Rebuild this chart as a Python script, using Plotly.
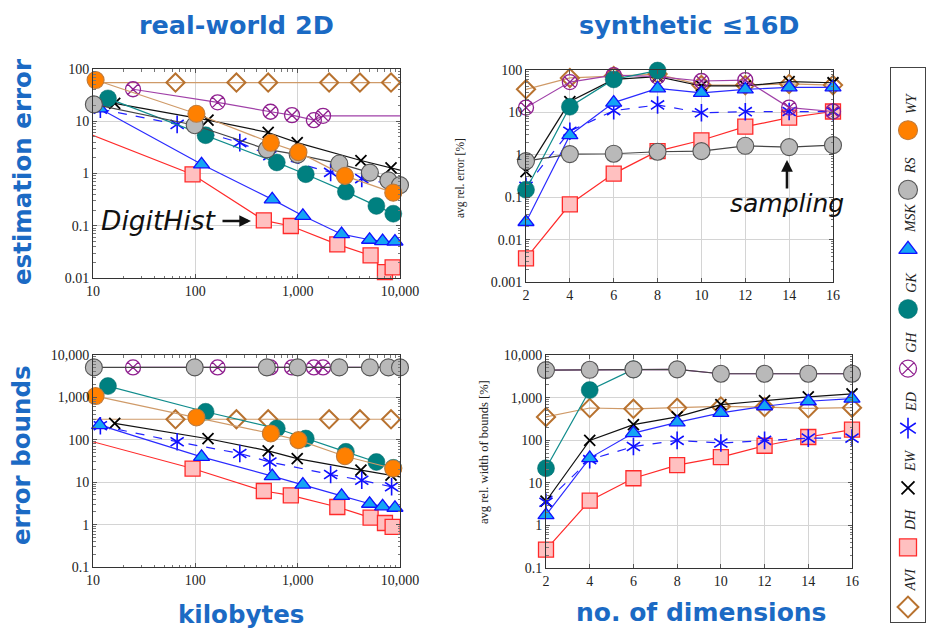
import plotly.graph_objects as go
import numpy as np

# ---------------- real-world 2D (x = kilobytes) ----------------
AVI_rw_x = [8, 64, 252, 515, 2030, 4060, 8170]
AVI_rw_err = [55, 55, 55, 55, 55, 55, 55]
AVI_rw_bnd = [305, 305, 305, 305, 305, 305, 305]

DH_rw_x = [8, 94, 467, 857, 2440, 5160, 7130, 8470]
DH_rw_err = [6.4, 0.96, 0.127, 0.099, 0.044, 0.027, 0.013, 0.016]
DH_rw_bnd = [104, 21, 6.2, 4.9, 2.6, 1.46, 1.09, 0.88]

EW_rw_x = [16.3, 133, 515, 990, 4150, 8170, 14000]
EW_rw_err = [22, 10.5, 6.1, 3.9, 1.77, 1.28, 0.99]
EW_rw_bnd = [243, 106, 55, 36, 19.2, 14.6, 11.7]

ED_rw_x = [11.8, 66.4, 272, 535, 2100, 4230, 8280]
ED_rw_err = [17, 8.7, 3.9, 2.2, 1.05, 0.80, 0.62]
ED_rw_bnd = [215, 90, 47.5, 30, 15.2, 11.1, 7.8]

GH_rw_x = [24.6, 165, 543, 880, 1440, 1770, 20000]
GH_rw_err = [41, 23, 15.2, 13.1, 10.5, 12.7, 12.7]
GH_rw_bnd = [5100, 5100, 5100, 5100, 5100, 5100, 5100]

GK_rw_x = [14, 126, 625, 1200, 2960, 5880, 8600]
GK_rw_err = [27.4, 5.4, 1.63, 0.97, 0.45, 0.24, 0.17]
GK_rw_bnd = [1850, 458, 185, 107, 52, 30, 21.8]

MSK_rw_x = [11.6, 115, 564, 1124, 2686, 5044, 6760, 8930]
MSK_rw_err = [17.6, 1.5, 0.32, 0.155, 0.069, 0.054, 0.051, 0.050]
MSK_rw_bnd = [222, 39.6, 13.9, 8.8, 4.75, 3.1, 2.7, 2.5]

RS_rw_x = [10.2, 98.6, 500, 1000, 2550, 5080, 7700, 10000]
RS_rw_err = [21, 8.4, 2.9, 2.3, 1.55, 1.04, 0.74, 0.60]
RS_rw_bnd = [5100, 5100, 5100, 5100, 5100, 5100, 5100, 5100]

WY_rw_x = [10.6, 102.5, 547, 1018, 2896, 8590]
WY_rw_err = [61.5, 13.9, 3.87, 2.56, 0.90, 0.43]
WY_rw_bnd = [1075, 337, 141, 98, 41, 21]

# ---------------- synthetic (x = no. of dimensions) ----------------
dims = [2, 4, 6, 8, 10, 12, 14, 16]
GK_dims_err = [2, 4, 6, 8]
GK_dims_bnd = [2, 4, 6]

AVI_syn_err = [35, 65, 72, 80, 44, 44, 47, 44]
DH_syn_err = [0.0036, 0.068, 0.36, 1.22, 2.2, 4.6, 7.5, 10.5]
EW_syn_err = [0.40, 18, 60, 70, 42, 42, 53, 50]
ED_syn_err = [0.18, 3.6, 11, 15, 9.8, 10.4, 10.5, 10.4]
GH_syn_err = [13, 52, 76, 70, 55, 58, 13, 10.5]
GK_syn_err = [0.15, 13.6, 60, 97]
MSK_syn_err = [0.026, 2.9, 17, 37, 29, 35, 39, 39]
RS_syn_err = [0.71, 1.04, 1.06, 1.18, 1.22, 1.63, 1.52, 1.69]

AVI_syn_bnd = [352, 570, 545, 575, 620, 600, 560, 580]
DH_syn_bnd = [0.27, 3.8, 12.8, 26, 40, 74, 119, 177]
EW_syn_bnd = [3.7, 99, 232, 352, 687, 853, 1040, 1225]
ED_syn_bnd = [3.5, 35, 71, 99, 86, 99, 112, 112]
GH_syn_bnd = [4420, 4500, 4600, 4600, 3630, 3630, 3630, 3630]
GK_syn_bnd = [22, 1500, 4600]
MSK_syn_bnd = [1.75, 38, 147, 263, 436, 627, 822, 950]
RS_syn_bnd = [4420, 4500, 4600, 4600, 3630, 3630, 3630, 3630]

# tick labels
rw_x_ticks = [10, 100, 1000, 10000]
rw_x_text = ["10", "100", "1,000", "10,000"]
err_rw_ticks = [0.01, 0.1, 1, 10, 100]
err_rw_text = ["0.01", "0.1", "1", "10", "100"]
err_syn_ticks = [0.001, 0.01, 0.1, 1, 10, 100]
err_syn_text = ["0.001", "0.01", "0.1", "1", "10", "100"]
bnd_ticks = [0.1, 1, 10, 100, 1000, 10000]
bnd_text = ["0.1", "1", "10", "100", "1,000", "10,000"]

names = ["AVI", "DH", "EW", "ED", "GH", "GK", "MSK", "RS", "WY"]

styles = {
    "AVI": dict(line=dict(color="#cf9a68", width=1.2),
                marker=dict(symbol="diamond-open", size=14, color="#b8722f", line=dict(width=2, color="#b8722f"))),
    "DH": dict(line=dict(color="#ff2a2a", width=1.2),
               marker=dict(symbol="square", size=15, color="#ffc0c0", line=dict(width=1.3, color="#ff2a2a"))),
    "EW": dict(line=dict(color="#111111", width=1.2),
               marker=dict(symbol="x-thin-open", size=11, color="#000000", line=dict(width=1.8, color="#000000"))),
    "ED": dict(line=dict(color="#2222ff", width=1.2, dash="dash"),
               marker=dict(symbol="y-up-open", size=11, color="#1010ff", line=dict(width=1.6, color="#1010ff"))),
    "GH": dict(line=dict(color="#a040a8", width=1.2),
               marker=dict(symbol="circle-x-open", size=15, color="#902090", line=dict(width=1.3, color="#902090"))),
    "GK": dict(line=dict(color="#108c8c", width=1.2),
               marker=dict(symbol="circle", size=17, color="#008080", line=dict(width=0.5, color="#006a6a"))),
    "MSK": dict(line=dict(color="#2a2aff", width=1.2),
                marker=dict(symbol="triangle-up", size=14, color="#14a4f4", line=dict(width=1.3, color="#1010ff"))),
    "RS": dict(line=dict(color="#454545", width=1.2),
               marker=dict(symbol="circle", size=17, color="#b9b9b9", line=dict(width=1.1, color="#555555"))),
    "WY": dict(line=dict(color="#cf9a68", width=1.2),
               marker=dict(symbol="circle", size=17, color="#ff8000", line=dict(width=1.1, color="#c07a3a"))),
}

fig = go.Figure()


def add_series(name, xs, ys, xa, ya, xrng, logx):
    st = styles[name]
    fig.add_trace(go.Scatter(x=xs, y=ys, mode="lines", line=st["line"], xaxis=xa, yaxis=ya,
                             showlegend=False, hoverinfo="skip"))
    lo, hi = xrng
    xv = np.log10(xs) if logx else np.array(xs, dtype=float)
    keep = [(a, b) for a, b, v in zip(xs, ys, xv) if lo - 1e-9 <= v <= hi + 1e-9]
    mx = [k[0] for k in keep]
    my = [k[1] for k in keep]
    fig.add_trace(go.Scatter(x=mx, y=my, mode="markers", marker=st["marker"], xaxis=xa, yaxis=ya,
                             showlegend=False, cliponaxis=False, name=name))
    if name == "ED":
        m2 = dict(st["marker"])
        m2["symbol"] = "y-down-open"
        fig.add_trace(go.Scatter(x=mx, y=my, mode="markers", marker=m2, xaxis=xa, yaxis=ya,
                                 showlegend=False, cliponaxis=False, hoverinfo="skip"))


rw = {
    "AVI": (AVI_rw_x, AVI_rw_err, AVI_rw_bnd),
    "DH": (DH_rw_x, DH_rw_err, DH_rw_bnd),
    "EW": (EW_rw_x, EW_rw_err, EW_rw_bnd),
    "ED": (ED_rw_x, ED_rw_err, ED_rw_bnd),
    "GH": (GH_rw_x, GH_rw_err, GH_rw_bnd),
    "GK": (GK_rw_x, GK_rw_err, GK_rw_bnd),
    "MSK": (MSK_rw_x, MSK_rw_err, MSK_rw_bnd),
    "RS": (RS_rw_x, RS_rw_err, RS_rw_bnd),
    "WY": (WY_rw_x, WY_rw_err, WY_rw_bnd),
}
syn = {
    "AVI": (dims, AVI_syn_err, dims, AVI_syn_bnd),
    "DH": (dims, DH_syn_err, dims, DH_syn_bnd),
    "EW": (dims, EW_syn_err, dims, EW_syn_bnd),
    "ED": (dims, ED_syn_err, dims, ED_syn_bnd),
    "GH": (dims, GH_syn_err, dims, GH_syn_bnd),
    "GK": (GK_dims_err, GK_syn_err, GK_dims_bnd, GK_syn_bnd),
    "MSK": (dims, MSK_syn_err, dims, MSK_syn_bnd),
    "RS": (dims, RS_syn_err, dims, RS_syn_bnd),
}

for n in names:
    xs, e, b = rw[n]
    add_series(n, xs, e, "x", "y", (1, 4), True)
    add_series(n, xs, b, "x3", "y3", (1, 4), True)
    if n in syn:
        xe, se, xb, sb = syn[n]
        add_series(n, xe, se, "x2", "y2", (2, 16), False)
        add_series(n, xb, sb, "x4", "y4", (2, 16), False)

# ---------------- legend (custom vertical box) ----------------
for i, n in enumerate(names):
    st = styles[n]
    py = 607 - i * 59.6
    fy = (622 - py) / 554.0
    lm = dict(st["marker"])
    lm["size"] = lm["size"] + 2
    fig.add_trace(go.Scatter(x=[0.5], y=[fy], mode="markers", marker=lm, xaxis="x5", yaxis="y5",
                             showlegend=False, cliponaxis=False, hoverinfo="skip"))
    if n == "ED":
        lm2 = dict(lm)
        lm2["symbol"] = "y-down-open"
        fig.add_trace(go.Scatter(x=[0.5], y=[fy], mode="markers", marker=lm2, xaxis="x5", yaxis="y5",
                                 showlegend=False, cliponaxis=False, hoverinfo="skip"))
    fig.add_annotation(x=0.58, y=(622 - (py - 14)) / 554.0, xref="x5", yref="y5", text="<i>" + n + "</i>",
                       textangle=-90, showarrow=False, xanchor="center", yanchor="bottom",
                       font=dict(family="Liberation Serif", size=14, color="#222222"))

W, H = 927, 632


def px(x):
    return x / W


def py_(y):
    return 1 - y / H


tickfont = dict(family="Liberation Serif", size=14, color="#222222")
base = dict(showline=True, linecolor="#333333", linewidth=1, mirror="allticks", ticks="inside",
            ticklen=4, tickcolor="#555555", showgrid=True, gridcolor="#d4d4d4", gridwidth=1,
            zeroline=False, tickfont=tickfont, automargin=False)


def minor_vals(lo, hi):
    return [m * 10.0 ** d for d in range(lo, hi) for m in range(2, 10)]


minor_style = dict(ticks="inside", ticklen=2.5, tickcolor="#777777", showgrid=False)

fig.update_layout(
    width=W, height=H, margin=dict(l=0, r=0, t=0, b=0, autoexpand=False),
    paper_bgcolor="white", plot_bgcolor="white", showlegend=False,
    xaxis=dict(base, type="log", range=[1, 4], domain=[px(93), px(400)], anchor="y",
               tickvals=rw_x_ticks, ticktext=rw_x_text, minor=dict(minor_style, tickvals=minor_vals(1, 4))),
    yaxis=dict(base, type="log", range=[-2, 2], domain=[py_(278), py_(69)], anchor="x",
               tickvals=err_rw_ticks, ticktext=err_rw_text, minor=dict(minor_style, tickvals=minor_vals(-2, 2))),
    xaxis2=dict(base, range=[2, 16], domain=[px(526), px(833)], anchor="y2", tickvals=dims),
    yaxis2=dict(base, type="log", range=[-3, 2], domain=[py_(282), py_(70)], anchor="x2",
                tickvals=err_syn_ticks, ticktext=err_syn_text, minor=dict(minor_style, tickvals=minor_vals(-3, 2))),
    xaxis3=dict(base, type="log", range=[1, 4], domain=[px(93), px(400)], anchor="y3",
                tickvals=rw_x_ticks, ticktext=rw_x_text, minor=dict(minor_style, tickvals=minor_vals(1, 4))),
    yaxis3=dict(base, type="log", range=[-1, 4], domain=[py_(567), py_(355)], anchor="x3",
                tickvals=bnd_ticks, ticktext=bnd_text, minor=dict(minor_style, tickvals=minor_vals(-1, 4))),
    xaxis4=dict(base, range=[2, 16], domain=[px(546), px(852)], anchor="y4", tickvals=dims),
    yaxis4=dict(base, type="log", range=[-1, 4], domain=[py_(568), py_(355)], anchor="x4",
                tickvals=bnd_ticks, ticktext=bnd_text, minor=dict(minor_style, tickvals=minor_vals(-1, 4))),
    xaxis5=dict(range=[0, 1], domain=[px(891), px(925)], anchor="y5", showline=True, mirror=True,
                linecolor="#444444", linewidth=1, showgrid=False, zeroline=False, showticklabels=False,
                ticks="", automargin=False),
    yaxis5=dict(range=[0, 1], domain=[py_(622), py_(68)], anchor="x5", showline=True, mirror=True,
                linecolor="#444444", linewidth=1, showgrid=False, zeroline=False, showticklabels=False,
                ticks="", automargin=False),
)

blue = "#1b6ac4"
big = [
    ("<b>real-world 2D</b>", 236, 25, 0, 25.5),
    ("<b>synthetic ≤16D</b>", 689, 25, 0, 25.5),
    ("<b>estimation error</b>", 22, 172, -90, 24.5),
    ("<b>error bounds</b>", 22, 455, -90, 24.5),
    ("<b>kilobytes</b>", 241, 614, 0, 24.5),
    ("<b>no. of dimensions</b>", 701, 612, 0, 25),
]
for t, x, y, a, s in big:
    fig.add_annotation(x=px(x), y=py_(y), xref="paper", yref="paper", text=t, textangle=a,
                       showarrow=False, xanchor="center", yanchor="middle",
                       font=dict(family="DejaVu Sans", size=s, color=blue))

small = [
    ("avg rel. error [%]", 461, 178, 11.5),
    ("avg rel. width of bounds [%]", 484, 452, 12.5),
]
for t, x, y, s in small:
    fig.add_annotation(x=px(x), y=py_(y), xref="paper", yref="paper", text=t, textangle=-90,
                       showarrow=False, xanchor="center", yanchor="middle",
                       font=dict(family="Liberation Serif", size=s, color="#222222"))

# DigitHist callout
fig.add_annotation(x=px(158), y=py_(221), xref="paper", yref="paper", text="<i>DigitHist</i>",
                   showarrow=False, xanchor="center", yanchor="middle",
                   font=dict(family="DejaVu Sans", size=26.5, color="#111111"))
fig.add_annotation(x=px(251), y=py_(221), xref="paper", yref="paper", text="", showarrow=True,
                   ax=-30, ay=0, arrowhead=2, arrowsize=0.9, arrowwidth=2.6, arrowcolor="#111111")
# sampling callout
fig.add_annotation(x=px(787), y=py_(204), xref="paper", yref="paper", text="<i>sampling</i>",
                   showarrow=False, xanchor="center", yanchor="middle",
                   font=dict(family="DejaVu Sans", size=25, color="#111111"))
fig.add_annotation(x=px(787), y=py_(160), xref="paper", yref="paper", text="", showarrow=True,
                   ax=0, ay=30, arrowhead=2, arrowsize=0.9, arrowwidth=2.6, arrowcolor="#111111")

fig.write_html("out.html", config={"displayModeBar": False},
               post_script="document.body.style.margin='0';document.body.style.overflow='hidden';")
